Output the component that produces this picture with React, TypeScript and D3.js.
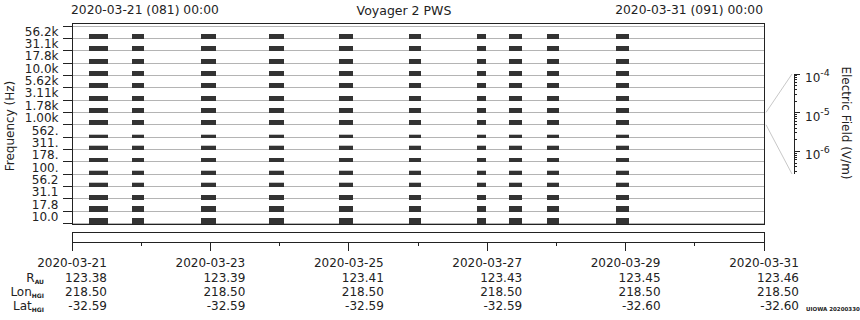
import React from "react";
import * as d3 from "d3";

// ---- data ----
const channels = ["10.0", "17.8", "31.1", "56.2", "100.", "178.", "311.", "562.", "1.00k", "1.78k", "3.11k", "5.62k", "10.0k", "17.8k", "31.1k", "56.2k"];
// relative amplitude within each channel (fraction of channel height)
const channelLevel = [0.43, 0.4, 0.33, 0.27, 0.25, 0.33, 0.27, 0.17, 0.35, 0.35, 0.35, 0.35, 0.35, 0.35, 0.37, 0.37];
const channelPeak = [0.45, 0.43, 0.34, 0.36, 0.35, 0.34, 0.34, 0.27, 0.36, 0.35, 0.35, 0.35, 0.35, 0.35, 0.37, 0.37];
// data segments, hours after 2020-03-21 00:00 UTC
const segStartHours = [5.9, 20.8, 44.7, 68.4, 92.6, 116.9, 140.4, 151.4, 164.6, 188.6];
const segEndHours = [12.5, 25.0, 49.9, 73.4, 97.4, 121.0, 143.5, 156.0, 169.0, 193.2];

const dateLabels = ["2020-03-21", "2020-03-23", "2020-03-25", "2020-03-27", "2020-03-29", "2020-03-31"];
const rAU = ["123.38", "123.39", "123.41", "123.43", "123.45", "123.46"];
const lonHGI = ["218.50", "218.50", "218.50", "218.50", "218.50", "218.50"];
const latHGI = ["-32.59", "-32.59", "-32.59", "-32.59", "-32.60", "-32.60"];

const eFieldDomain = [2.6e-7, 1e-4];

const FONT = "DejaVu Sans, Verdana, sans-serif";
const INK = "#222";

export default function App() {
  const t0 = new Date(Date.UTC(2020, 2, 21));
  const t1 = new Date(Date.UTC(2020, 2, 31));
  const left = 72, right = 764, top = 23, bottom = 224;
  const x = d3.scaleUtc().domain([t0, t1]).range([left, right]);
  const y = d3.scaleBand<string>().domain([...channels].reverse()).range([26, 223.5]).paddingInner(0).paddingOuter(0);
  const bw = y.bandwidth();
  const lvl = d3.scaleLinear().domain([0, 1]).range([0, bw]);
  const hour = (h: number) => new Date(t0.getTime() + h * 3600e3);

  const days = x.ticks(d3.utcDay.every(1) as any);
  const eScale = d3.scaleLog().domain(eFieldDomain).range([174, 74]);
  const eTicks = eScale.ticks();
  const cbX = 794;
  const ref = "1.00k";
  const refTop = y(ref)!;
  const refBot = refTop + bw;

  const gridYs = [...y.domain().map((c) => y(c)!), 223.5];

  return (
    <div style={{ position: "absolute", left: 0, top: 0 }}>
      <svg width={860} height={320} style={{ display: "block", background: "#fff" }} fontFamily={FONT}>
        {/* header */}
        <text x={71} y={14} fontSize={12.3} fill={INK}>2020-03-21 (081) 00:00</text>
        <text x={404} y={15} fontSize={12.5} fill={INK} textAnchor="middle">Voyager 2 PWS</text>
        <text x={763} y={14} fontSize={12.3} fill={INK} textAnchor="end">2020-03-31 (091) 00:00</text>

        {/* gridlines */}
        {gridYs.map((gy, i) => (
          <line key={"g" + i} x1={left} x2={right} y1={gy} y2={gy} stroke="#b4b4b4" strokeWidth={1} shapeRendering="crispEdges" />
        ))}

        {/* data bars */}
        {channels.map((c, ci) => {
          const yb = y(c)! + bw;
          return segStartHours.map((s, si) => {
            const x0 = x(hour(s));
            const x1 = x(hour(segEndHours[si]));
            const hp = lvl(channelPeak[ci]);
            const hl = lvl(channelLevel[ci]);
            return (
              <g key={c + "-" + si}>
                {hp > hl + 0.3 && (
                  <rect x={x0} y={yb - hp} width={x1 - x0} height={hp - hl} fill="#c4c4c4" shapeRendering="crispEdges" />
                )}
                <rect x={x0} y={yb - hl} width={x1 - x0} height={hl + 0.7} fill="#333" shapeRendering="crispEdges" />
              </g>
            );
          });
        })}

        {/* frame */}
        <rect x={left} y={top} width={right - left} height={bottom - top} fill="none" stroke={INK} strokeWidth={1} shapeRendering="crispEdges" />

        {/* y ticks and labels */}
        {gridYs.map((gy, i) => (
          <line key={"yt" + i} x1={62.5} x2={left} y1={gy} y2={gy} stroke={INK} shapeRendering="crispEdges" />
        ))}
        {y.domain().map((c) => (
          <text key={"yl" + c} x={58.5} y={y(c)! + bw / 2 + 3.6} fontSize={12} fill={INK} textAnchor="end">{c}</text>
        ))}
        <text transform="translate(14,126) rotate(-90)" fontSize={12} fill={INK} textAnchor="middle">Frequency (Hz)</text>

        {/* colorbar connectors */}
        <line x1={766} y1={refTop} x2={792} y2={eScale(1e-4)} stroke="#c8c8c8" />
        <line x1={766} y1={refBot} x2={792} y2={eScale(eFieldDomain[0])} stroke="#c8c8c8" />
        {/* colorbar axis */}
        <line x1={cbX} x2={cbX} y1={74} y2={174} stroke={INK} shapeRendering="crispEdges" />
        {eTicks.map((t, i) => {
          const major = Math.abs(Math.log10(t) - Math.round(Math.log10(t))) < 1e-6;
          return (
            <line key={"et" + i} x1={cbX} x2={cbX + (major ? 6 : 3)} y1={eScale(t)} y2={eScale(t)} stroke={INK} shapeRendering="crispEdges" />
          );
        })}
        {eTicks.filter((t) => Math.abs(Math.log10(t) - Math.round(Math.log10(t))) < 1e-6).map((t) => (
          <text key={"el" + t} x={805} y={eScale(t) + 8} fontSize={12} fill={INK}>
            10<tspan dy={-6} fontSize={9.5}>{String(Math.round(Math.log10(t)))}</tspan>
          </text>
        ))}
        <text transform="translate(842,123) rotate(90)" fontSize={12} fill={INK} textAnchor="middle">Electric Field (V/m)</text>

        {/* lower time box */}
        <rect x={left} y={232} width={right - left} height={10} fill="none" stroke={INK} shapeRendering="crispEdges" />
        {days.map((d, i) => (
          <line key={"xt" + i} x1={x(d)} x2={x(d)} y1={242} y2={i % 2 === 0 ? 251 : 246} stroke={INK} shapeRendering="crispEdges" />
        ))}

        {/* ephemeris */}
        {dateLabels.map((lab, i) => {
          const cx = x(d3.utcDay.offset(t0, i * 2));
          const re = cx + 35;
          return (
            <g key={"eph" + i} fontSize={12} fill={INK}>
              <text x={cx} y={267} textAnchor="middle">{lab}</text>
              <text x={re} y={281.5} textAnchor="end">{rAU[i]}</text>
              <text x={re} y={295.5} textAnchor="end">{lonHGI[i]}</text>
              <text x={re} y={310} textAnchor="end">{latHGI[i]}</text>
            </g>
          );
        })}
        <g fill={INK}>
          <text x={44} y={281.5} textAnchor="end" fontSize={12}>R<tspan dy={2} fontSize={6} fontWeight="bold">AU</tspan></text>
          <text x={44} y={295.5} textAnchor="end" fontSize={12}>Lon<tspan dy={2} fontSize={6} fontWeight="bold">HGI</tspan></text>
          <text x={44} y={310} textAnchor="end" fontSize={12}>Lat<tspan dy={2} fontSize={6} fontWeight="bold">HGI</tspan></text>
        </g>
        <text x={806} y={310.5} fontSize={5.5} fontWeight="bold" fill={INK}>UIOWA 20200330</text>
      </svg>
    </div>
  );
}
